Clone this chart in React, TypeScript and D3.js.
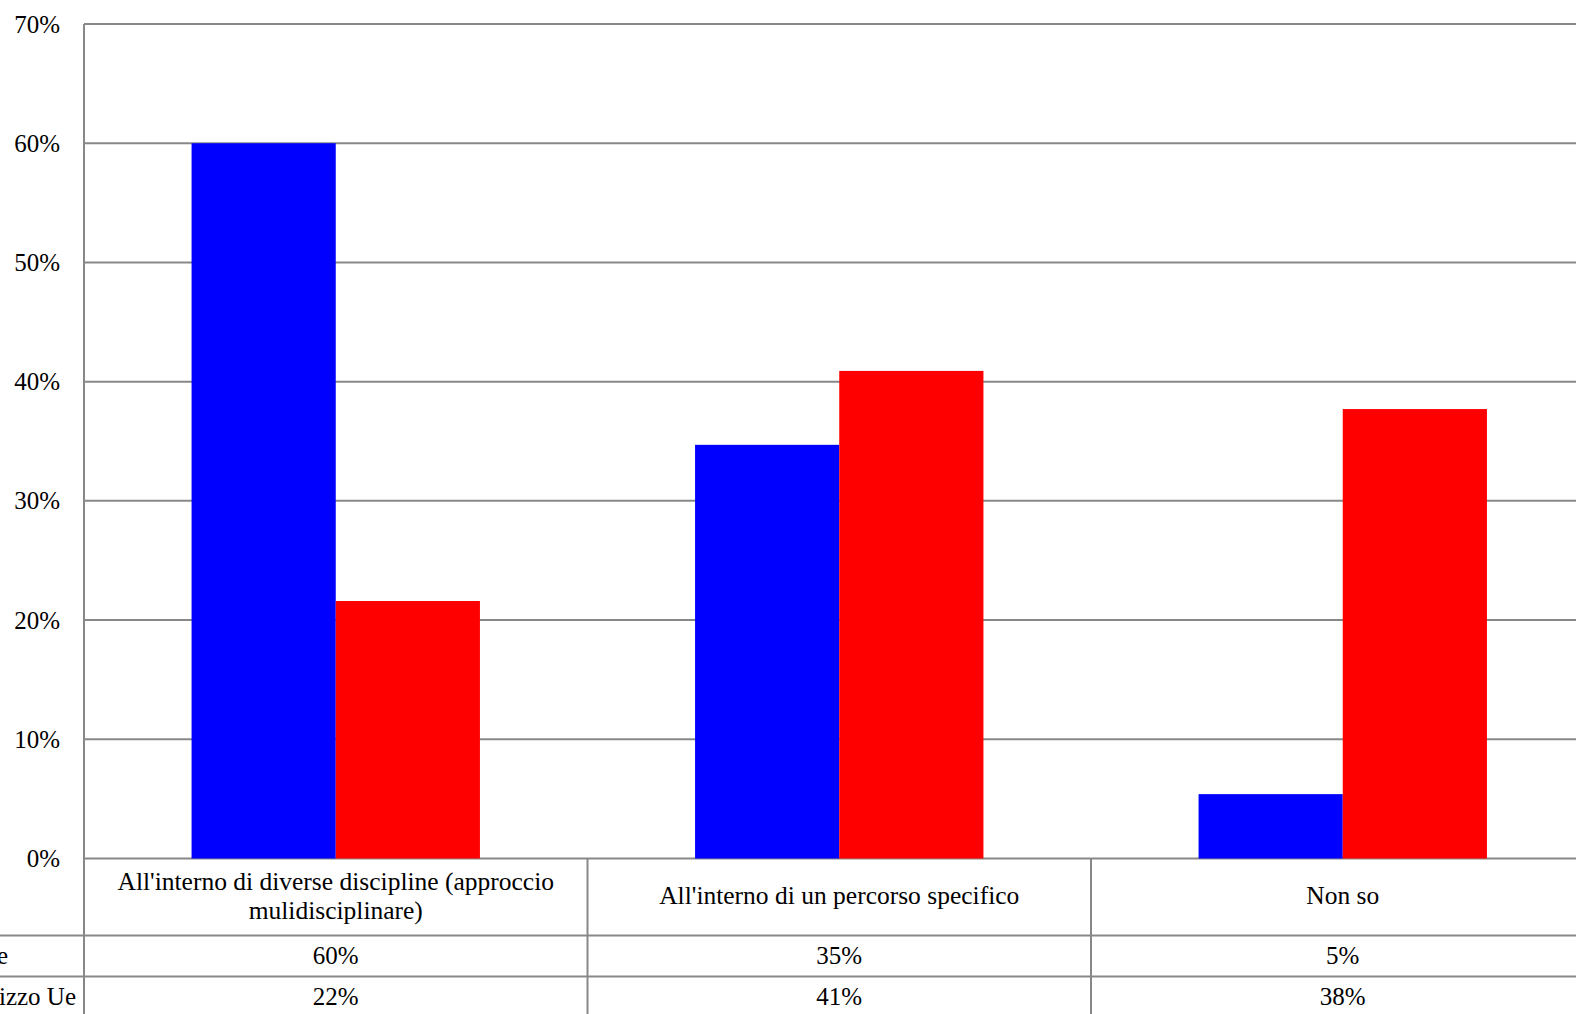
import React from "react";
import * as d3 from "d3";

// ---- data ----
const categories = [
  "All'interno di diverse discipline (approccio mulidisciplinare)",
  "All'interno di un percorso specifico",
  "Non so",
];
const seriesNames = ["Totale", "Scuole ad indirizzo Ue"];
const seriesBlue = [0.6, 0.347, 0.054];
const seriesRed = [0.216, 0.409, 0.377];
const seriesColors = ["#0000FF", "#FF0000"];
const yTicks = [0, 0.1, 0.2, 0.3, 0.4, 0.5, 0.6, 0.7];

const W = 1576;
const H = 1014;
const FONT = "'Liberation Serif', 'Times New Roman', serif";
const FS = 25;
const GRID = "#888888";

function wrapText(text: string, maxW: number, fs: number): string[] {
  const canvas = document.createElement("canvas");
  const ctx = canvas.getContext("2d")!;
  ctx.font = `${fs}px ${FONT}`;
  const words = text.split(" ");
  const lines: string[] = [];
  let cur = "";
  for (const w of words) {
    const t = cur ? cur + " " + w : w;
    if (ctx.measureText(t).width > maxW && cur) {
      lines.push(cur);
      cur = w;
    } else cur = t;
  }
  if (cur) lines.push(cur);
  return lines;
}

export default function App() {
  const plotLeft = 84;
  const bandW = 503.5;
  const plotTop = 24;
  const plotBottom = 858.5;
  const headerBottom = 935.5;
  const rowH = 41;
  const HFS = 25.5;

  const x = d3
    .scaleBand<string>()
    .domain(categories)
    .range([plotLeft, plotLeft + bandW * categories.length])
    .paddingInner(0)
    .paddingOuter(0);
  const x1 = d3
    .scaleBand<string>()
    .domain(seriesNames)
    .range([0, x.bandwidth()])
    .paddingInner(0)
    .paddingOuter(0.746);
  const y = d3.scaleLinear().domain([0, 0.7]).range([plotBottom, plotTop]);
  const fmt = d3.format(".0%");
  const series = [seriesBlue, seriesRed];
  const labelEnds = [8, 76];

  const headerMid = 904;
  const lineGap = 29;

  return (
    <div style={{ position: "absolute", left: 0, top: 0 }}>
      <svg width={W} height={H} style={{ display: "block", overflow: "hidden" }}>
        <rect x={0} y={0} width={W} height={H} fill="#fff" />
        {/* gridlines */}
        {yTicks.map((t) => (
          <line key={"g" + t} x1={plotLeft} x2={W + 20} y1={y(t)} y2={y(t)} stroke={GRID} strokeWidth={2} />
        ))}
        {/* y tick labels */}
        {yTicks.map((t) => (
          <text key={"t" + t} x={60} y={y(t) + 8.5} textAnchor="end" fontFamily={FONT} fontSize={FS} fill="#000">
            {fmt(t)}
          </text>
        ))}
        {/* bars */}
        {categories.map((c, i) =>
          seriesNames.map((s, j) => (
            <rect
              key={c + s}
              x={(x(c) ?? 0) + (x1(s) ?? 0)}
              y={y(series[j][i])}
              width={x1.bandwidth()}
              height={plotBottom - y(series[j][i])}
              fill={seriesColors[j]}
            />
          ))
        )}
        {/* table lines */}
        <line x1={plotLeft} x2={plotLeft} y1={plotTop} y2={H + 10} stroke={GRID} strokeWidth={2} />
        {categories.map((c, i) =>
          i > 0 ? (
            <line key={"v" + c} x1={x(c)} x2={x(c)} y1={plotBottom} y2={H + 10} stroke={GRID} strokeWidth={2} />
          ) : null
        )}
        <line x1={0} x2={W + 20} y1={headerBottom} y2={headerBottom} stroke={GRID} strokeWidth={2} />
        <line x1={0} x2={W + 20} y1={headerBottom + rowH} y2={headerBottom + rowH} stroke={GRID} strokeWidth={2} />
        {/* category headers */}
        {categories.map((c) => {
          const lines = wrapText(c, x.bandwidth() - 30, HFS);
          const cx = (x(c) ?? 0) + x.bandwidth() / 2;
          const start = headerMid - ((lines.length - 1) * lineGap) / 2;
          return (
            <text key={"h" + c} x={cx} textAnchor="middle" fontFamily={FONT} fontSize={HFS} fill="#000">
              {lines.map((l, k) => (
                <tspan key={k} x={cx} y={start + k * lineGap}>
                  {l}
                </tspan>
              ))}
            </text>
          );
        })}
        {/* rows */}
        {seriesNames.map((s, j) => {
          const base = headerBottom + rowH * j + 28;
          return (
            <g key={"r" + s}>
              <text x={labelEnds[j]} y={base} textAnchor="end" fontFamily={FONT} fontSize={FS} fill="#000">
                {s}
              </text>
              {categories.map((c, i) => (
                <text
                  key={c}
                  x={(x(c) ?? 0) + x.bandwidth() / 2}
                  y={base}
                  textAnchor="middle"
                  fontFamily={FONT}
                  fontSize={FS}
                  fill="#000"
                >
                  {fmt(series[j][i])}
                </text>
              ))}
            </g>
          );
        })}
      </svg>
    </div>
  );
}
